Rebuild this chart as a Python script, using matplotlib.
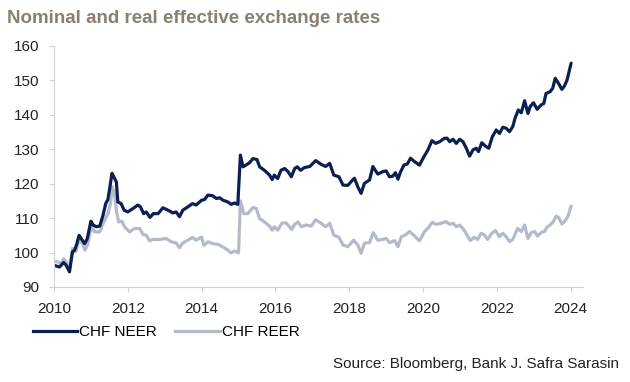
import matplotlib.pyplot as plt
from matplotlib.lines import Line2D

plt.rcParams['font.family'] = ['Liberation Sans', 'DejaVu Sans']

# CHF NEER (year, index)
neer_x = [2010.0, 2010.15, 2010.26, 2010.33, 2010.42, 2010.5, 2010.56, 2010.62, 2010.68, 2010.74,
          2010.83, 2010.9, 2011.0, 2011.06, 2011.15, 2011.24, 2011.33, 2011.4, 2011.46, 2011.5,
          2011.57, 2011.62, 2011.69, 2011.73, 2011.82, 2011.9, 2012.0, 2012.14, 2012.27, 2012.34,
          2012.43, 2012.5, 2012.6, 2012.69, 2012.82, 2012.95, 2013.09, 2013.22, 2013.31, 2013.4,
          2013.49, 2013.63, 2013.75, 2013.85, 2014.0, 2014.08, 2014.17, 2014.3, 2014.4, 2014.49,
          2014.58, 2014.71, 2014.8, 2014.89, 2014.98, 2015.05, 2015.12, 2015.2, 2015.3, 2015.39,
          2015.5, 2015.57, 2015.7, 2015.84, 2015.91, 2015.97, 2016.06, 2016.15, 2016.25, 2016.34,
          2016.43, 2016.52, 2016.59, 2016.68, 2016.79, 2016.93, 2017.09, 2017.24, 2017.36, 2017.47,
          2017.58, 2017.72, 2017.83, 2017.96, 2018.05, 2018.14, 2018.23, 2018.32, 2018.41, 2018.55,
          2018.64, 2018.77, 2018.91, 2019.0, 2019.09, 2019.18, 2019.25, 2019.32, 2019.38, 2019.48,
          2019.57, 2019.66, 2019.77, 2019.9, 2020.02, 2020.13, 2020.24, 2020.34, 2020.45, 2020.58,
          2020.65, 2020.72, 2020.81, 2020.9, 2020.99, 2021.08, 2021.17, 2021.26, 2021.35, 2021.44,
          2021.5, 2021.59, 2021.69, 2021.78, 2021.87, 2021.98, 2022.07, 2022.16, 2022.25, 2022.34,
          2022.43, 2022.49, 2022.58, 2022.66, 2022.75, 2022.84, 2022.9, 2022.99, 2023.09, 2023.2,
          2023.27, 2023.33, 2023.44, 2023.51, 2023.58, 2023.67, 2023.76, 2023.83, 2023.9, 2024.01]
neer_y = [96.3, 95.8, 97.1, 96.3, 94.4, 100.2, 100.7, 102.6, 105.0, 104.0,
          102.6, 104.0, 109.1, 108.0, 107.5, 107.7, 110.9, 114.2, 115.4, 118.0,
          123.0, 122.0, 120.5, 114.7, 114.2, 112.3, 111.8, 112.8, 113.8, 113.3,
          111.3, 111.8, 110.2, 111.3, 111.3, 113.0, 112.3, 111.5, 111.8, 110.4,
          112.3, 113.3, 114.2, 113.8, 115.2, 115.4, 116.7, 116.5, 115.7, 115.9,
          115.2, 114.7, 114.0, 114.4, 114.0, 128.3, 124.9, 125.4, 126.1, 127.3,
          127.0, 124.9, 123.9, 122.5, 121.2, 122.5, 121.5, 123.9, 124.4, 123.5,
          122.0, 124.4, 124.9, 123.9, 124.7, 125.0, 126.7, 125.6, 125.0, 125.9,
          122.5, 122.0, 119.6, 119.5, 120.6, 121.6, 119.1, 117.2, 120.1, 121.1,
          125.0, 122.8, 123.5, 123.7, 122.0, 122.2, 123.2, 121.3, 123.2, 125.4,
          125.7, 127.4, 126.4, 125.4, 127.8, 129.8, 132.5, 131.7, 132.2, 133.2,
          133.2, 132.2, 132.9, 131.7, 132.9, 132.2, 130.3, 128.0, 129.8, 130.3,
          129.3, 131.9, 130.9, 130.3, 133.5, 135.6, 134.6, 136.4, 136.1, 135.1,
          136.6, 139.0, 141.4, 140.6, 144.1, 140.4, 142.4, 143.5, 141.6, 142.9,
          143.3, 146.2, 146.7, 147.7, 150.6, 149.1, 147.4, 148.4, 150.1, 155.0]

# CHF REER (year, index)
reer_x = [2010.0, 2010.1, 2010.2, 2010.26, 2010.33, 2010.42, 2010.5, 2010.59, 2010.68, 2010.77,
          2010.84, 2010.92, 2011.01, 2011.1, 2011.24, 2011.33, 2011.46, 2011.53, 2011.58, 2011.64,
          2011.69, 2011.75, 2011.84, 2011.91, 2012.05, 2012.18, 2012.32, 2012.41, 2012.5, 2012.59,
          2012.68, 2012.86, 2013.04, 2013.18, 2013.31, 2013.4, 2013.49, 2013.63, 2013.75, 2013.85,
          2014.0, 2014.06, 2014.17, 2014.3, 2014.44, 2014.58, 2014.71, 2014.8, 2014.89, 2015.0,
          2015.05, 2015.14, 2015.25, 2015.39, 2015.48, 2015.57, 2015.7, 2015.84, 2015.91, 2015.97,
          2016.06, 2016.18, 2016.29, 2016.38, 2016.44, 2016.52, 2016.61, 2016.7, 2016.83, 2016.97,
          2017.09, 2017.24, 2017.36, 2017.47, 2017.58, 2017.72, 2017.83, 2017.96, 2018.12, 2018.23,
          2018.32, 2018.41, 2018.55, 2018.65, 2018.77, 2018.91, 2019.0, 2019.09, 2019.23, 2019.32,
          2019.41, 2019.52, 2019.63, 2019.74, 2019.9, 2020.04, 2020.15, 2020.25, 2020.35, 2020.49,
          2020.62, 2020.72, 2020.81, 2020.9, 2020.99, 2021.1, 2021.19, 2021.28, 2021.38, 2021.48,
          2021.57, 2021.66, 2021.75, 2021.86, 2021.96, 2022.07, 2022.16, 2022.25, 2022.34, 2022.43,
          2022.56, 2022.66, 2022.75, 2022.84, 2022.93, 2023.02, 2023.1, 2023.2, 2023.29, 2023.35,
          2023.46, 2023.53, 2023.6, 2023.67, 2023.76, 2023.83, 2023.92, 2024.01]
reer_y = [97.5, 97.3, 96.8, 98.2, 97.3, 95.0, 101.2, 100.2, 103.6, 102.6,
          100.7, 102.6, 107.5, 106.0, 106.0, 108.4, 111.3, 114.2, 119.1, 117.2,
          112.3, 108.9, 109.1, 107.5, 106.0, 107.0, 107.0, 105.3, 105.0, 103.4,
          103.8, 103.8, 104.1, 103.1, 102.8, 101.4, 102.8, 103.6, 104.4, 103.6,
          104.5, 102.1, 103.1, 102.6, 102.4, 101.6, 100.7, 99.9, 100.5, 99.9,
          115.0, 111.3, 111.3, 113.1, 112.8, 109.9, 108.9, 107.7, 106.5, 107.5,
          106.5, 108.6, 108.6, 107.5, 106.7, 108.2, 108.9, 107.5, 108.0, 107.7,
          109.5, 108.5, 107.5, 108.5, 105.1, 104.4, 102.2, 101.7, 103.6, 102.2,
          99.8, 102.7, 102.9, 105.8, 103.6, 103.8, 104.1, 102.9, 103.5, 101.7,
          104.6, 105.1, 106.1, 105.1, 103.4, 106.1, 107.3, 108.8, 108.2, 108.5,
          109.0, 108.2, 108.5, 107.5, 108.0, 106.7, 105.1, 103.5, 104.4, 103.8,
          105.6, 105.1, 103.8, 105.6, 106.4, 104.6, 105.6, 104.6, 103.2, 103.8,
          107.0, 106.1, 108.0, 104.1, 105.8, 106.1, 104.8, 105.8, 106.1, 107.3,
          108.2, 109.0, 110.6, 110.2, 108.3, 109.0, 110.4, 113.5]

x_ticks = [2010, 2012, 2014, 2016, 2018, 2020, 2022, 2024]
y_ticks = [90, 100, 110, 120, 130, 140, 150, 160]

neer_color = '#0b2050'
reer_color = '#b3bbcb'
spine_color = '#d0d0d0'

fig = plt.figure(figsize=(6.3, 3.82), dpi=100)
ax = fig.add_axes([0.0857, 0.2487, 0.839, 0.631])

ax.plot(reer_x, reer_y, color=reer_color, lw=2.3, solid_joinstyle='round', solid_capstyle='round')
ax.plot(neer_x, neer_y, color=neer_color, lw=2.3, solid_joinstyle='round', solid_capstyle='round')

ax.set_xlim(2010, 2024.32)
ax.set_ylim(90, 160)
ax.set_xticks(x_ticks)
ax.set_yticks(y_ticks)
ax.tick_params(axis='both', labelsize=11, labelcolor='#222222', length=3.6, width=0.8,
               color=spine_color, pad=7)
for s in ['top', 'right']:
    ax.spines[s].set_visible(False)
for s in ['left', 'bottom']:
    ax.spines[s].set_color(spine_color)
    ax.spines[s].set_linewidth(0.8)

fig.text(0.011, 0.952, 'Nominal and real effective exchange rates', fontsize=13.5, fontweight='bold',
         color='#8a8072', ha='left', va='center')

handles = [Line2D([], [], color=neer_color, lw=2.3),
           Line2D([], [], color=reer_color, lw=2.3)]
fig.legend(handles, ['CHF NEER', 'CHF REER'], loc='center left', bbox_to_anchor=(0.052, 0.131),
           ncol=2, frameon=False, fontsize=11, handlelength=2.9, handletextpad=0.15,
           columnspacing=1.2, borderaxespad=0, borderpad=0)

fig.text(0.983, 0.047, 'Source: Bloomberg, Bank J. Safra Sarasin', fontsize=11,
         color='#222222', ha='right', va='center')

fig.savefig('out.png', dpi=100)
